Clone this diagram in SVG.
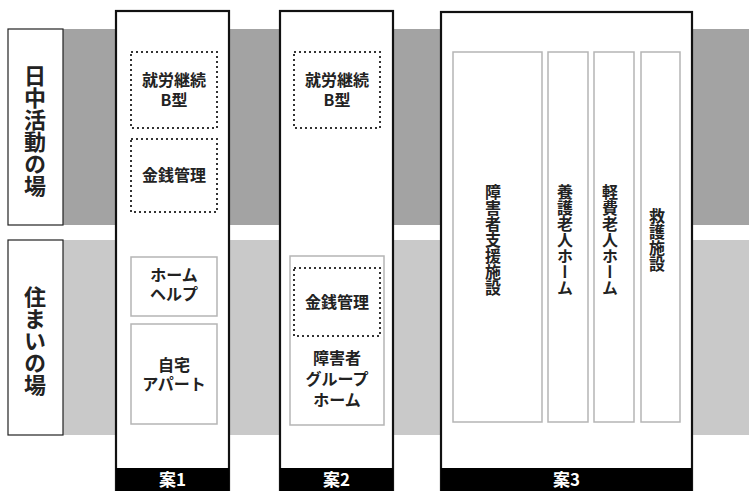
<svg xmlns="http://www.w3.org/2000/svg" width="749" height="491" viewBox="0 0 749 491">
<defs>
<style>
.band-dark{fill:#a3a3a3}
.band-light{fill:#c9c9c9}
.lbl{fill:#fff;stroke:#222;stroke-width:1.2}
.col{fill:#fff;stroke:#111;stroke-width:2.2}
.bar{fill:#000}
.dot{fill:#fff;stroke:#333;stroke-width:2;stroke-dasharray:2 3}
.grey{fill:#fff;stroke:#b5b5b5;stroke-width:1.5}
.t{font-family:"Noto Sans CJK JP","Liberation Sans",sans-serif;font-weight:bold;fill:#222;text-anchor:middle}
.n{font-size:16px}
.big{font-size:22px;writing-mode:vertical-rl}
.v{font-size:16px;writing-mode:vertical-rl}
.w{font-size:17px;fill:#fff}
</style>
</defs>
<g id="bands">
<rect class="band-dark" x="63" y="29" width="686" height="196"/>
<rect class="band-light" x="63" y="240" width="686" height="195"/>
</g>
<g id="label-day">
<rect class="lbl" x="8" y="29" width="55" height="196"/>
<text class="t big" x="35" y="131">日中活動の場</text>
</g>
<g id="label-home">
<rect class="lbl" x="8" y="240" width="55" height="195"/>
<text class="t big" x="35" y="341">住まいの場</text>
</g>
<g id="col1">
<rect class="col" x="116" y="11" width="113" height="480"/>
<rect class="bar" x="116" y="468" width="113" height="23"/>
<text class="t w" x="172.5" y="486">案1</text>
</g>
<g id="c1-b">
<rect class="dot" x="131" y="52" width="86" height="76"/>
<text class="t n" x="174" y="86">就労継続<tspan x="174" dy="20">B型</tspan></text>
</g>
<g id="c1-money">
<rect class="dot" x="131" y="139" width="86" height="73"/>
<text class="t n" x="174" y="181">金銭管理</text>
</g>
<g id="c1-help">
<rect class="grey" x="131" y="257" width="86" height="59"/>
<text class="t n" x="174" y="281">ホーム<tspan x="174" dy="19">ヘルプ</tspan></text>
</g>
<g id="c1-home">
<rect class="grey" x="131" y="324" width="86" height="100"/>
<text class="t n" x="174" y="371">自宅<tspan x="174" dy="19">アパート</tspan></text>
</g>
<g id="col2">
<rect class="col" x="280" y="11" width="113" height="480"/>
<rect class="bar" x="280" y="468" width="113" height="23"/>
<text class="t w" x="336.5" y="486">案2</text>
</g>
<g id="c2-b">
<rect class="dot" x="294" y="52" width="86" height="76"/>
<text class="t n" x="337" y="86">就労継続<tspan x="337" dy="20">B型</tspan></text>
</g>
<g id="c2-gh">
<rect class="grey" x="290" y="256" width="94" height="169"/>
<text class="t n" x="337" y="364">障害者<tspan x="337" dy="21">グループ</tspan><tspan x="337" dy="21">ホーム</tspan></text>
</g>
<g id="c2-money">
<rect class="dot" x="294" y="268" width="86" height="68"/>
<text class="t n" x="337" y="308">金銭管理</text>
</g>
<g id="col3">
<rect class="col" x="441" y="12" width="251" height="479"/>
<rect class="bar" x="441" y="468" width="251" height="23"/>
<text class="t w" x="566.5" y="486">案3</text>
</g>
<g id="c3-a">
<rect class="grey" x="453" y="52" width="89" height="370"/>
<text class="t v" x="493" y="240">障害者支援施設</text>
</g>
<g id="c3-b">
<rect class="grey" x="548" y="52" width="40" height="370"/>
<text class="t v" x="565" y="240">養護老人ホーム</text>
</g>
<g id="c3-c">
<rect class="grey" x="594" y="52" width="40" height="370"/>
<text class="t v" x="610" y="240">軽費老人ホーム</text>
</g>
<g id="c3-d">
<rect class="grey" x="641" y="52" width="39" height="370"/>
<text class="t v" x="657" y="240">救護施設</text>
</g>
<g id="connectors"/>
</svg>
